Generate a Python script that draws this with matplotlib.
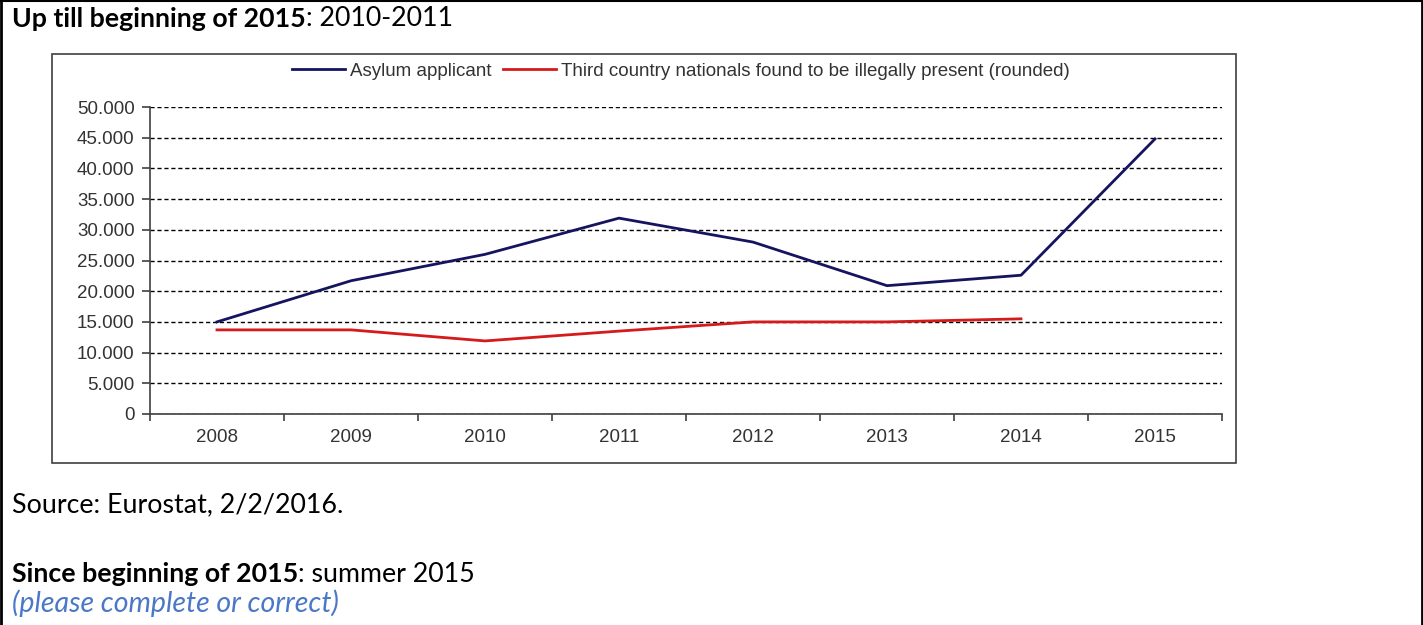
import matplotlib
matplotlib.use("Agg")
import matplotlib.pyplot as plt
import matplotlib.patches as patches
from matplotlib.lines import Line2D
from matplotlib.ticker import FuncFormatter, FixedLocator

# data
years = ["2008", "2009", "2010", "2011", "2012", "2013", "2014", "2015"]
asylum = [15000, 21700, 26000, 31900, 28000, 20900, 22600, 44800]
illegal = [13700, 13700, 11900, 13500, 15000, 15000, 15500]
y_ticks = [0, 5000, 10000, 15000, 20000, 25000, 30000, 35000, 40000, 45000, 50000]

W, H = 1423, 625
fig = plt.figure(figsize=(W / 100, H / 100), dpi=100)
fig.patch.set_facecolor("white")

def px(x, y):
    return x / W, 1 - y / H

# outer table cell border
fig.add_artist(Line2D([1.5 / W, 1.5 / W], [0, 1], color="black", lw=2))
fig.add_artist(Line2D([0, 1], [1 - 0.5 / H, 1 - 0.5 / H], color="black", lw=1.5))
fig.add_artist(Line2D([1 - 1.5 / W, 1 - 1.5 / W], [0, 1], color="black", lw=2))

# chart frame
fig.add_artist(patches.Rectangle(px(52, 463), (1236 - 52) / W, (463 - 54) / H,
                                 transform=fig.transFigure, fill=False,
                                 edgecolor="#404040", lw=1.2))

# plot axes
x0, x1, y0, y1 = 150, 1222, 414, 107
ax = fig.add_axes([x0 / W, 1 - y0 / H, (x1 - x0) / W, (y0 - y1) / H])
xs = list(range(len(years)))
navy = "#14145f"
red = "#d41a1a"
ax.plot(xs, asylum, color=navy, lw=2, label="Asylum applicant")
ax.plot(xs[:len(illegal)], illegal, color=red, lw=2,
        label="Third country nationals found to be illegally present (rounded)")

chart_fs = 13.5
ax.set_xlim(-0.5, len(years) - 0.5)
ax.set_ylim(0, 50000)
ax.set_yticks(y_ticks)
ax.yaxis.set_major_formatter(FuncFormatter(lambda v, p: f"{int(v):,}".replace(",", ".")))
ax.set_xticks(xs)
ax.set_xticklabels(years)
ax.xaxis.set_minor_locator(FixedLocator([k - 0.5 for k in range(len(years) + 1)]))
ax.tick_params(axis="x", which="major", length=0, pad=11)
ax.tick_params(axis="x", which="minor", length=5, direction="out", color="#404040", width=1.2)
ax.tick_params(axis="y", length=6, direction="out", color="#404040", width=1.2, pad=5)
for lab in ax.get_xticklabels() + ax.get_yticklabels():
    lab.set_fontfamily("Liberation Sans")
    lab.set_fontsize(chart_fs)
    lab.set_color("#333333")
ax.grid(axis="y", color="black", ls=(0, (3, 2)), lw=1)
ax.set_axisbelow(True)
for s in ["top", "right"]:
    ax.spines[s].set_visible(False)
for s in ["left", "bottom"]:
    ax.spines[s].set_color("#404040")
    ax.spines[s].set_linewidth(1.2)
ax.patch.set_alpha(0)

leg = ax.legend(loc="center", bbox_to_anchor=px(681, 71), bbox_transform=fig.transFigure,
                ncol=2, frameon=False, handlelength=2.8, handletextpad=0.3, columnspacing=0.6,
                prop={"family": "Liberation Sans", "size": chart_fs})
for t in leg.get_texts():
    t.set_color("#333333")

# surrounding text
hdr_font = "Lato"
hdr_fs = 19.3
fig.canvas.draw()
r = fig.canvas.get_renderer()

def two_part(x, y, bold_txt, rest_txt, size):
    t = fig.text(x / W, 1 - y / H, bold_txt, fontfamily=hdr_font, fontweight="bold",
                 fontsize=size, va="center", ha="left")
    bb = t.get_window_extent(renderer=r)
    fig.text(bb.x1 / W, 1 - y / H, rest_txt, fontfamily=hdr_font,
             fontsize=size, va="center", ha="left")

two_part(12, 19, "Up till beginning of 2015", ": 2010-2011", hdr_fs)
fig.text(12 / W, 1 - 505 / H, "Source: Eurostat, 2/2/2016.", fontfamily=hdr_font,
         fontsize=hdr_fs, va="center", ha="left")
two_part(12, 574, "Since beginning of 2015", ": summer 2015", hdr_fs)
fig.text(12 / W, 1 - 603 / H, "(please complete or correct)", fontfamily=hdr_font,
         fontsize=20.5, style="italic", color="#4a77c8", va="center", ha="left")

fig.savefig("out.png", dpi=100)
